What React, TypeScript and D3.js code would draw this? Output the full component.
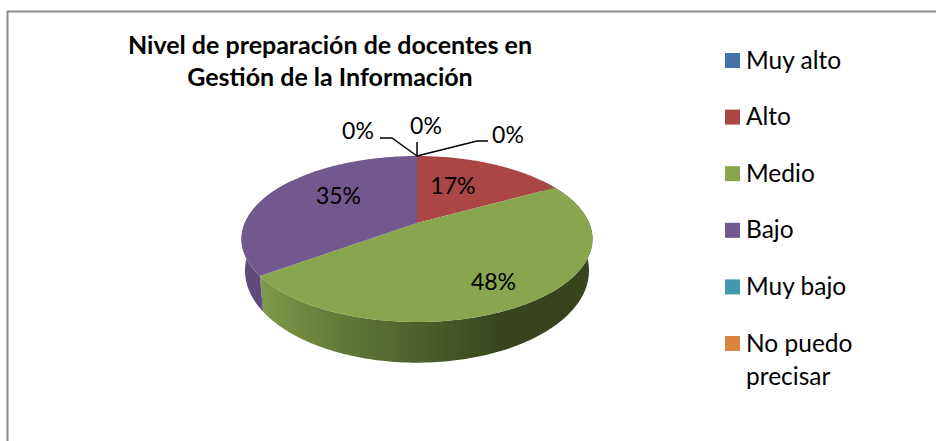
import React from 'react';
import * as d3 from 'd3';

const categories = ['Muy alto', 'Alto', 'Medio', 'Bajo', 'Muy bajo', 'No puedo precisar'];
const percents = [0, 17, 48, 35, 0, 0];
const sliceColors = ['#4572A7', '#AA4643', '#89A54E', '#71588F', '#4198AF', '#DB843D'];
const titleLines = ['Nivel de preparación de docentes en', 'Gestión de la Información'];
const legendLines: Record<string, string[]> = { 'No puedo precisar': ['No puedo', 'precisar'] };

const width = 936;
const height = 441;
const font = 'Lato, "Open Sans", sans-serif';

// pie is a tilted disc: the apex sits above the middle of the rim ellipse
const apex = { x: 417, y: 223 };
const persp = -0.1928;
const scaleX = 172.2;
const scaleY = 79.9;
const base = { dy: 30, sx: 0.98, sy: 1.108 };

const project = (angle: number, r = 1) => {
  const u = Math.sin(angle) * r;
  const v = -Math.cos(angle) * r;
  const w = 1 + persp * v;
  return [(scaleX * u) / w, (scaleY * v) / w];
};
const topPoint = (angle: number, r = 1): [number, number] => {
  const [x, y] = project(angle, r);
  return [apex.x + x, apex.y + y];
};
const basePoint = (angle: number): [number, number] => {
  const [x, y] = project(angle);
  return [apex.x + x * base.sx, apex.y + base.dy + y * base.sy];
};

const line = d3.line<[number, number]>();
const rimAngles = (a0: number, a1: number) => {
  const n = Math.max(2, Math.ceil((a1 - a0) / 0.02));
  return d3.range(n + 1).map((i) => a0 + ((a1 - a0) * i) / n);
};

const pie = d3.pie<number>().sort(null).value((d) => d);
const slices = pie(percents);

const color = d3.scaleOrdinal<string, string>().domain(categories).range(sliceColors);
const legendY = d3.scalePoint<string>().domain(categories).range([60.5, 343.5]);

// label spots: radial position on the disc plus a small nudge
const labelSpots: Record<string, { r: number; dx: number; dy: number }> = {
  Alto: { r: 0.4, dx: 3, dy: -11 },
  Medio: { r: 0.73, dx: 0, dy: 3 },
  Bajo: { r: 0.55, dx: 2, dy: -8 },
};
// leaders for the empty slices, relative to the top of the rim
const zeroLeaders: Record<string, { pts: [number, number][]; label: [number, number] }> = {
  'Muy alto': { pts: [[0, 0], [0, -14]], label: [9, -22] },
  'Muy bajo': { pts: [[0, 0], [60, -15], [71, -15]], label: [91, -13] },
  'No puedo precisar': { pts: [[0, 0], [-25, -18], [-37, -18]], label: [-59, -17] },
};

export default function App() {
  const rimTop = topPoint(0);
  const sideSlices = slices.filter((s) => s.endAngle - s.startAngle > 0);

  return (
    <svg
      width={width}
      height={height}
      style={{ position: 'absolute', left: 0, top: 0, display: 'block', background: '#fff' }}
      fontFamily={font}
    >
      <defs>
        <linearGradient id="greenSide" gradientUnits="userSpaceOnUse" x1={260} x2={505} y1={0} y2={0}>
          <stop offset="0%" stopColor="#7f9a49" />
          <stop offset="35%" stopColor="#617738" />
          <stop offset="70%" stopColor="#4a5c2a" />
          <stop offset="100%" stopColor="#37441c" />
        </linearGradient>
      </defs>

      {/* chart frame, only top and left show */}
      <path d={`M${width},11.5H7.5V${height}`} fill="none" stroke="#8c8c8c" strokeWidth={2} />

      {titleLines.map((t, i) => (
        <text key={t} x={330} y={54 + i * 32} textAnchor="middle" fontWeight={700} fontSize={25} fill="#000">
          {t}
        </text>
      ))}

      {/* side walls, front part only */}
      {sideSlices.map((s) => {
        const a0 = Math.max(s.startAngle, Math.PI * 0.3);
        const a1 = Math.min(s.endAngle, Math.PI * 1.7);
        if (a1 <= a0) return null;
        const angles = rimAngles(a0, a1);
        const pts = [...angles.map((a) => topPoint(a)), ...angles.slice().reverse().map((a) => basePoint(a))];
        const fill = s.data === 48 ? 'url(#greenSide)' : '#5f4b7b';
        return <path key={s.index} d={(line(pts) ?? '') + 'Z'} fill={fill} />;
      })}

      {/* top face */}
      {sideSlices.map((s) => {
        const pts = [[apex.x, apex.y] as [number, number], ...rimAngles(s.startAngle, s.endAngle).map((a) => topPoint(a))];
        return <path key={s.index} d={(line(pts) ?? '') + 'Z'} fill={color(categories[s.index])} />;
      })}

      {/* value labels */}
      {sideSlices.map((s) => {
        const spot = labelSpots[categories[s.index]];
        const [x, y] = topPoint((s.startAngle + s.endAngle) / 2, spot.r);
        return (
          <text key={s.index} x={x + spot.dx} y={y + spot.dy + 8} textAnchor="middle" fontSize={23} fill="#000">
            {`${s.data}%`}
          </text>
        );
      })}

      {/* empty slices with leader lines */}
      {categories.map((c, i) => {
        const leader = zeroLeaders[c];
        if (!leader) return null;
        return (
          <g key={c} transform={`translate(${rimTop[0]},${rimTop[1]})`}>
            <path d={line(leader.pts) ?? ''} fill="none" stroke="#000" strokeWidth={1.5} />
            <text x={leader.label[0]} y={leader.label[1]} textAnchor="middle" fontSize={23} fill="#000">
              {`${percents[i]}%`}
            </text>
          </g>
        );
      })}

      {/* legend */}
      {categories.map((c) => {
        const y = legendY(c)!;
        return (
          <g key={c}>
            <rect x={725} y={y - 7.5} width={15} height={15} fill={color(c)} />
            {(legendLines[c] ?? [c]).map((t, j) => (
              <text key={t} x={746} y={y + 8 + j * 33} fontSize={24.5} fill="#000">
                {t}
              </text>
            ))}
          </g>
        );
      })}
    </svg>
  );
}
